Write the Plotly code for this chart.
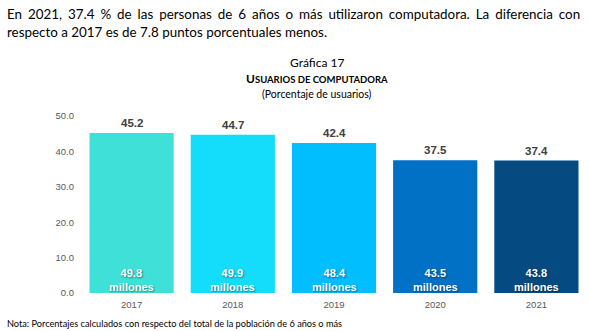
import plotly.graph_objects as go

years = ["2017", "2018", "2019", "2020", "2021"]
pct = [45.2, 44.7, 42.4, 37.5, 37.4]
millions = [49.8, 49.9, 48.4, 43.5, 43.8]
colors = ["#3FE0D8", "#14DDFB", "#00BEFF", "#0071C4", "#054B82"]
yticks = [0, 10, 20, 30, 40, 50]

W, H = 589, 331
ML, MR, MT, MB = 81, 2, 116, 38
PW, PH = W - ML - MR, H - MT - MB

def px(x):
    return (x - ML) / PW

def py(y):
    return (H - MB - y) / PH

fig = go.Figure()
fig.add_trace(go.Bar(x=years, y=pct, marker=dict(color=colors, line=dict(width=0)),
                     hoverinfo="skip"))

ann = []
for i, (p, m) in enumerate(zip(pct, millions)):
    ann.append(dict(x=i, y=p, xref="x", yref="y", text=f"<b>{p:.1f}</b>", showarrow=False,
                    yanchor="bottom", yshift=2,
                    font=dict(family="Liberation Sans", size=11.5, color="#404040")))
    ann.append(dict(x=i, y=0, xref="x", yref="y", text=f"<b>{m:.1f}<br>millones</b>", showarrow=False,
                    yanchor="bottom", yshift=-2,
                    font=dict(family="Liberation Sans", size=11, color="#FFFFFF",
                              shadow="1px 1px 2px rgba(0,0,0,0.45)")))

line1 = "En 2021, 37.4 % de las personas de 6 años o más utilizaron computadora. La diferencia con"
line1_j = "\u2009\u200a ".join(line1.split(" "))

paper_texts = [
    (5, 4, line1_j, "left", 13.4),
    (5, 22, "respecto a 2017 es de 7.8 puntos porcentuales menos.", "left", 13.4),
    (317, 53, "Gráfica 17", "center", 12),
    (317, 69, "<b>U<span style='font-size:9.5px'>SUARIOS DE COMPUTADORA</span></b>", "center", 12),
    (317, 86, "(Porcentaje de usuarios)", "center", 10.5),
    (5, 316, "Nota: Porcentajes calculados con respecto del total de la población de 6 años o más", "left", 9.2),
]
for x, y, t, al, sz in paper_texts:
    ann.append(dict(x=px(x), y=py(y), xref="paper", yref="paper", text=t, showarrow=False,
                    xanchor=al, yanchor="top",
                    font=dict(family="Lato", size=sz, color="#000000")))

fig.update_layout(
    width=W, height=H,
    margin=dict(l=ML, r=MR, t=MT, b=MB),
    paper_bgcolor="white", plot_bgcolor="white",
    bargap=0.168,
    showlegend=False,
    xaxis=dict(type="category", range=[-0.5, 4.5], showgrid=False, zeroline=False,
               showline=False, ticks="", ticklabelstandoff=4,
               tickfont=dict(family="Liberation Sans", size=9.5, color="#595959")),
    yaxis=dict(range=[0, 50], tickvals=yticks, ticktext=[f"{v:.1f}" for v in yticks],
               showgrid=False, zeroline=False, showline=False, ticks="",
               tickfont=dict(family="Liberation Sans", size=9.5, color="#595959"),
               ticklabelstandoff=6),
    annotations=ann,
)
fig.write_html("out.html")
